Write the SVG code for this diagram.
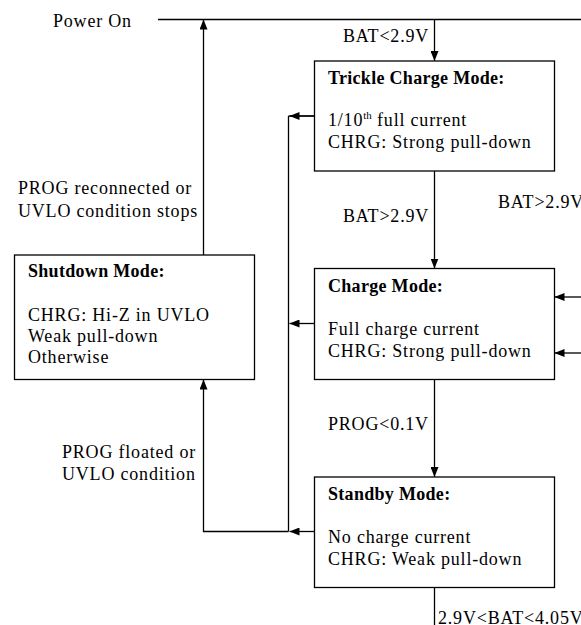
<svg xmlns="http://www.w3.org/2000/svg" width="581" height="625" viewBox="0 0 581 625">
<defs>
<style>
text{font-family:"Liberation Serif","Times New Roman",serif;font-size:18px;fill:#000;letter-spacing:0.8px}
.t{font-weight:bold;letter-spacing:0.3px}
.box{fill:#fff;stroke:#000;stroke-width:1.3}
.c{fill:none;stroke:#000;stroke-width:1.3}
</style>
<marker id="ah" viewBox="0 0 10 8" refX="10" refY="4" markerWidth="10" markerHeight="8" markerUnits="userSpaceOnUse" orient="auto">
<path d="M0,0 L10,4 L0,8 z" fill="#000"/>
</marker>
</defs>
<rect width="581" height="625" fill="#fff"/>
<g id="connectors">
<path class="c" d="M158,19.5 H581"/>
<path class="c" d="M434.5,19.5 V61" marker-end="url(#ah)"/>
<path class="c" d="M203.5,255 V19.5" marker-end="url(#ah)"/>
<path class="c" d="M434.5,171 V268.5" marker-end="url(#ah)"/>
<path class="c" d="M434.5,379.5 V477" marker-end="url(#ah)"/>
<path class="c" d="M434.5,587.5 V625"/>
<path class="c" d="M581,297 H554.5" marker-end="url(#ah)"/>
<path class="c" d="M581,353 H554.5" marker-end="url(#ah)"/>
<path class="c" d="M314.5,116 H288.5"/>
<path class="c" d="M314.5,116 H289.5" marker-end="url(#ah)"/>
<path class="c" d="M288.5,116 V531.5"/>
<path class="c" d="M314.5,323.5 H289.5" marker-end="url(#ah)"/>
<path class="c" d="M314.5,531.5 H289.5" marker-end="url(#ah)"/>
<path class="c" d="M288.5,531.5 H203.5 V379.5" marker-end="url(#ah)"/>
</g>
<g id="labels">
<text x="53" y="26.7">Power On</text>
<text x="343" y="41.7">BAT&lt;2.9V</text>
<text x="343" y="221.7">BAT&gt;2.9V</text>
<text x="498" y="208">BAT&gt;2.9V</text>
<text x="18" y="194">PROG reconnected or</text>
<text x="18" y="216.7">UVLO condition stops</text>
<text x="328" y="430">PROG&lt;0.1V</text>
<text x="62" y="458">PROG floated or</text>
<text x="62" y="480">UVLO condition</text>
<text x="438" y="623.5">2.9V&lt;BAT&lt;4.05V</text>
</g>
<g id="trickle">
<rect class="box" x="314.5" y="61" width="240" height="110"/>
<text class="t" x="328" y="84.3">Trickle Charge Mode:</text>
<text x="328" y="125.7">1/10<tspan font-size="11" dy="-7" letter-spacing="0">th</tspan><tspan dy="7"> full current</tspan></text>
<text x="328" y="148">CHRG: Strong pull-down</text>
</g>
<g id="charge">
<rect class="box" x="314.5" y="268.5" width="240" height="111"/>
<text class="t" x="328" y="291.7">Charge Mode:</text>
<text x="328" y="335">Full charge current</text>
<text x="328" y="356.7">CHRG: Strong pull-down</text>
</g>
<g id="standby">
<rect class="box" x="314.5" y="477" width="240" height="110.5"/>
<text class="t" x="328" y="500">Standby Mode:</text>
<text x="328" y="543">No charge current</text>
<text x="328" y="565">CHRG: Weak pull-down</text>
</g>
<g id="shutdown">
<rect class="box" x="14.5" y="255" width="240" height="124.5"/>
<text class="t" x="28" y="277.3">Shutdown Mode:</text>
<text x="28" y="321">CHRG: Hi-Z in UVLO</text>
<text x="28" y="341.7">Weak pull-down</text>
<text x="28" y="363.3">Otherwise</text>
</g>
</svg>
